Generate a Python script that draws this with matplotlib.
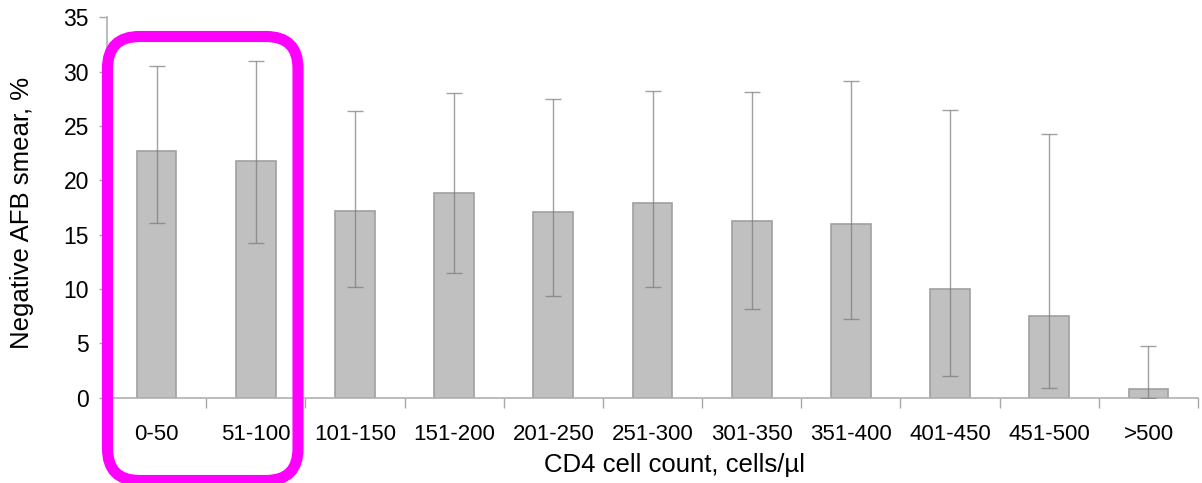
import matplotlib
matplotlib.use('Agg')
import matplotlib.pyplot as plt
import numpy as np
from matplotlib.patches import FancyBboxPatch
from matplotlib.transforms import IdentityTransform

categories = ["0-50", "51-100", "101-150", "151-200", "201-250", "251-300",
              "301-350", "351-400", "401-450", "451-500", ">500"]
values = [22.7, 21.8, 17.2, 18.8, 17.1, 17.9, 16.3, 16.0, 10.0, 7.5, 0.8]
err_upper = [30.5, 31.0, 26.4, 28.0, 27.5, 28.2, 28.1, 29.1, 26.5, 24.3, 4.8]
err_lower = [16.1, 14.2, 10.2, 11.5, 9.4, 10.2, 8.2, 7.2, 2.0, 0.9, 0.0]

plt.rcParams['font.family'] = ['Liberation Sans', 'DejaVu Sans']

fig = plt.figure(figsize=(12.02, 4.83), dpi=100)
ax = fig.add_axes([0.089, 0.1766, 0.9077, 0.7874])

x = np.arange(len(categories))
vals = np.array(values)
yerr = [vals - np.array(err_lower), np.array(err_upper) - vals]

ax.bar(x, vals, width=0.4, color='#c0c0c0', edgecolor='#a0a0a0', linewidth=1.2, zorder=2)
ax.errorbar(x, vals, yerr=yerr, fmt='none', ecolor='#7a7a7a', elinewidth=1.0,
            capsize=6, capthick=1.0, alpha=0.7, zorder=3)

ax.set_xlim(-0.5, len(categories) - 0.5)
ax.set_ylim(0, 35)
ax.set_yticks(np.arange(0, 36, 5))

ax.set_xticks(x)
ax.set_xticklabels(categories)
ax.set_xticks(np.arange(-0.5, len(categories), 1), minor=True)
ax.tick_params(axis='x', which='major', length=0, pad=19, labelsize=16)
ax.tick_params(axis='x', which='minor', length=7, color='#a8a8a8', width=1)
ax.tick_params(axis='y', length=6, color='#a8a8a8', width=1, labelsize=16.5, pad=7)

for side in ['top', 'right']:
    ax.spines[side].set_visible(False)
for side in ['left', 'bottom']:
    ax.spines[side].set_color('#b0b0b0')
    ax.spines[side].set_linewidth(1.2)

ax.set_ylabel("Negative AFB smear, %", fontsize=18.5, va='center')
ax.yaxis.set_label_coords(-0.078, 0.486)
ax.set_xlabel("CD4 cell count, cells/µl", fontsize=18.5, va='center')
ax.xaxis.set_label_coords(0.52, -0.177)

# magenta highlight box around the first two groups (pixel coords)
box = FancyBboxPatch((107.5, 2.5), 190.5, 444,
                     boxstyle="round,pad=0,rounding_size=32",
                     transform=IdentityTransform(), fill=False,
                     edgecolor='#ff00ff', linewidth=8, zorder=10)
fig.patches.append(box)

fig.savefig("out.png", dpi=100)
